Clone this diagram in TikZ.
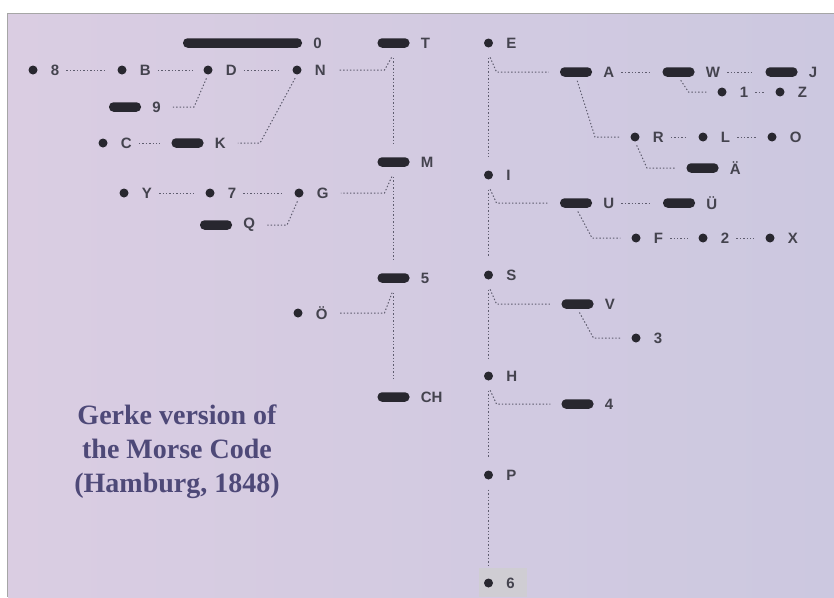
\documentclass[tikz,border=0pt]{standalone}
\usepackage{fontspec}
\setmainfont{Liberation Serif}
\setsansfont{Liberation Sans}
\usetikzlibrary{positioning}
\definecolor{ink}{HTML}{28272F}
\definecolor{lettergray}{HTML}{44434E}
\definecolor{linkgray}{HTML}{5E5C6E}
\definecolor{titleblue}{HTML}{4E4978}
\definecolor{paperleft}{HTML}{DACDE2}
\definecolor{paperright}{HTML}{CCC8E0}
\definecolor{patchgray}{HTML}{CFCDD3}

\begin{document}
\begin{tikzpicture}[%
x=1pt, y=-1pt,
dit/.style={circle, fill=ink, inner sep=0pt, minimum size=9pt},
dah/.style={rectangle, rounded corners=4.5pt, fill=ink, inner sep=0pt, minimum width=32pt, minimum height=9.5pt},
letter/.style={inner sep=1pt, text=lettergray, font=\sffamily\bfseries\fontsize{15}{15}\selectfont},
link/.style={draw=linkgray, line width=1pt, dash pattern=on 1.4pt off 2pt},
chain/.style={link, shorten <=6pt, shorten >=11pt},
branch/.style={link, shorten <=4pt, shorten >=11pt},
stem/.style={link, shorten <=10pt, shorten >=13pt},
heading/.style={align=center, text=titleblue, font=\rmfamily\bfseries\fontsize{28}{34}\selectfont},
]

\useasboundingbox (0,0) rectangle (834,597);
\fill[white] (0,0) rectangle (834,597);
\shade[left color=paperleft, right color=paperright] (8,14) rectangle (834,597);
\draw[gray!70, line width=0.8pt] (7.5,597) -- (7.5,13.5) -- (834,13.5);
\fill[patchgray] (479,568) rectangle (527,597);

% dash side
\node[dah, minimum width=119pt] (zero) at (242.5,43) {};
\node[letter, right=10pt of zero] (zero+) {0};
\node[dah] (t) at (393.5,43) {};
\node[letter, right=10pt of t] (t+) {T};
\node[dit] (n) at (297,70) {};
\node[letter, right=12pt of n] (n+) {N};
\node[dit] (d) at (208,70) {};
\node[letter, right=12pt of d] (d+) {D};
\node[dit] (b) at (122,70) {};
\node[letter, right=12pt of b] (b+) {B};
\node[dit] (eight) at (33,70) {};
\node[letter, right=12pt of eight] (eight+) {8};
\node[dah] (nine) at (125,107) {};
\node[letter, right=10pt of nine] (nine+) {9};
\node[dah] (k) at (187.5,143) {};
\node[letter, right=10pt of k] (k+) {K};
\node[dit] (c) at (103,143) {};
\node[letter, right=12pt of c] (c+) {C};
\node[dah] (m) at (393.5,162) {};
\node[letter, right=10pt of m] (m+) {M};
\node[dit] (g) at (299,193) {};
\node[letter, right=12pt of g] (g+) {G};
\node[dit] (seven) at (210,193) {};
\node[letter, right=12pt of seven] (seven+) {7};
\node[dit] (y) at (124,193) {};
\node[letter, right=12pt of y] (y+) {Y};
\node[dah] (q) at (216,225) {};
\node[letter, right=10pt of q] (q+) {Q};
\node[dah] (five) at (393.5,278) {};
\node[letter, right=10pt of five] (five+) {5};
\node[dit] (oe) at (298,313) {};
\node[letter, right=12pt of oe] (oe+) {Ö};
\node[dah] (ch) at (393.5,397) {};
\node[letter, right=10pt of ch] (ch+) {CH};

\draw[stem] (t) -- (m);
\draw[stem] (m) -- (five);
\draw[stem] (five) -- (ch);

\draw[branch] ([yshift=-6pt]t.south) -- ([xshift=-9pt]t |- n) -- (n+);
\draw[branch] ([yshift=-6pt]m.south) -- ([xshift=-9pt]m |- g) -- (g+);
\draw[branch] ([yshift=-6pt]five.south) -- ([xshift=-9pt]five |- oe) -- (oe+);
\draw[branch] (d.south) -- ([xshift=-14pt]d |- nine) -- (nine+);
\draw[branch] (n.south) -- ([xshift=-37pt]n |- k) -- (k+);
\draw[branch] (g.south) -- ([xshift=-12pt]g |- q) -- (q+);

\draw[chain] (eight+) -- (b);
\draw[chain] (b+) -- (d);
\draw[chain] (d+) -- (n);
\draw[chain] (c+) -- (k);
\draw[chain] (y+) -- (seven);
\draw[chain] (seven+) -- (g);

% dot side
\node[dit] (e) at (488.5,43) {};
\node[letter, right=12pt of e] (e+) {E};
\node[dah] (a) at (576,72) {};
\node[letter, right=10pt of a] (a+) {A};
\node[dah] (w) at (678.5,72) {};
\node[letter, right=10pt of w] (w+) {W};
\node[dah] (j) at (781.5,72) {};
\node[letter, right=10pt of j] (j+) {J};
\node[dit] (one) at (722,92) {};
\node[letter, right=12pt of one] (one+) {1};
\node[dit] (z) at (780,92) {};
\node[letter, right=12pt of z] (z+) {Z};
\node[dit] (r) at (635,137) {};
\node[letter, right=12pt of r] (r+) {R};
\node[dit] (l) at (703,137) {};
\node[letter, right=12pt of l] (l+) {L};
\node[dit] (o) at (772,137) {};
\node[letter, right=12pt of o] (o+) {O};
\node[dah] (ae) at (702.5,168) {};
\node[letter, right=10pt of ae] (ae+) {Ä};
\node[dit] (i) at (488.5,175) {};
\node[letter, right=12pt of i] (i+) {I};
\node[dah] (u) at (576,203) {};
\node[letter, right=10pt of u] (u+) {U};
\node[dah] (ue) at (679,203) {};
\node[letter, right=10pt of ue] (ue+) {Ü};
\node[dit] (f) at (636,238) {};
\node[letter, right=12pt of f] (f+) {F};
\node[dit] (two) at (703,238) {};
\node[letter, right=12pt of two] (two+) {2};
\node[dit] (x) at (770,238) {};
\node[letter, right=12pt of x] (x+) {X};
\node[dit] (s) at (488.5,275) {};
\node[letter, right=12pt of s] (s+) {S};
\node[dah] (v) at (577.5,304) {};
\node[letter, right=10pt of v] (v+) {V};
\node[dit] (three) at (636,338) {};
\node[letter, right=12pt of three] (three+) {3};
\node[dit] (h) at (488.5,376) {};
\node[letter, right=12pt of h] (h+) {H};
\node[dah] (four) at (577.5,404) {};
\node[letter, right=10pt of four] (four+) {4};
\node[dit] (p) at (488.5,475) {};
\node[letter, right=12pt of p] (p+) {P};
\node[dit] (six) at (488.5,583) {};
\node[letter, right=12pt of six] (six+) {6};

\draw[stem] (e) -- (i);
\draw[stem] (i) -- (s);
\draw[stem] (s) -- (h);
\draw[stem] (h) -- (p);
\draw[stem] (p) -- (six);

\draw[branch] ([yshift=-6pt]e.south) -- ([xshift=8pt]e |- a) -- (a);
\draw[branch] ([yshift=-6pt]i.south) -- ([xshift=8pt]i |- u) -- (u);
\draw[branch] ([yshift=-6pt]s.south) -- ([xshift=8pt]s |- v) -- (v);
\draw[branch] ([yshift=-6pt]h.south) -- ([xshift=8pt]h |- four) -- (four);
\draw[branch] (w.south) -- ([xshift=10pt]w |- one) -- (one);
\draw[branch] (a.south) -- ([xshift=19pt]a |- r) -- (r);
\draw[branch] (r.south) -- ([xshift=12pt]r |- ae) -- (ae);
\draw[branch] (u.south) -- ([xshift=16pt]u |- f) -- (f);
\draw[branch] (v.south) -- ([xshift=16pt]v |- three) -- (three);

\draw[chain] (a+) -- (w);
\draw[chain] (w+) -- (j);
\draw[chain] (one+) -- (z);
\draw[chain] (r+) -- (l);
\draw[chain] (l+) -- (o);
\draw[chain] (u+) -- (ue);
\draw[chain] (f+) -- (two);
\draw[chain] (two+) -- (x);

\node[heading] (gerke) at (177,452) {Gerke version of\\the Morse Code\\(Hamburg, 1848)};

\end{tikzpicture}
\end{document}
